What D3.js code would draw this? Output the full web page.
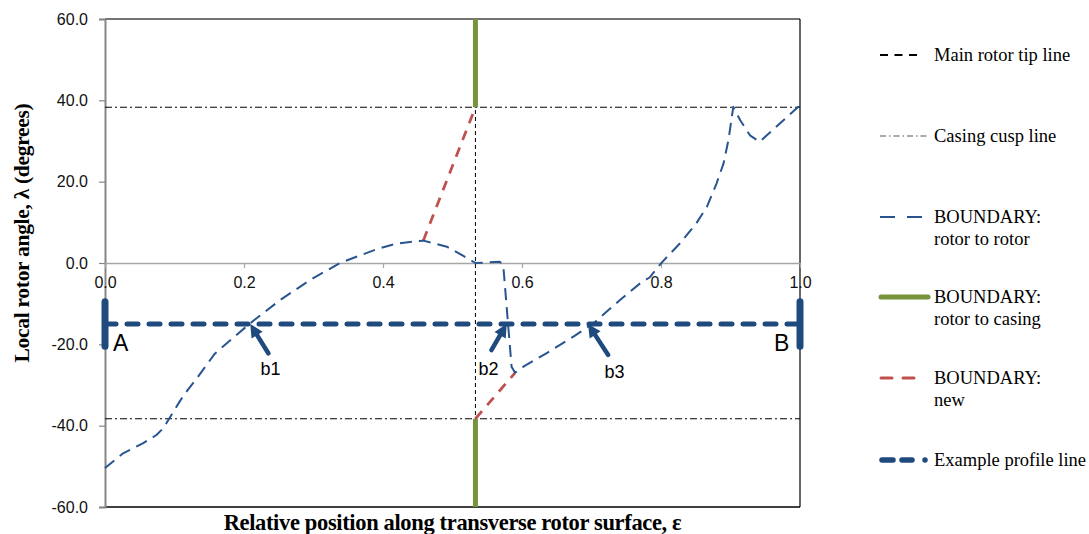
<!DOCTYPE html>
<html><head><meta charset="utf-8">
<script src="https://cdn.jsdelivr.net/npm/d3@7"></script>
<style>body{margin:0;background:#fff}svg{display:block}</style>
</head><body>
<svg id="chart" width="1089" height="534"></svg>
<script>
// ---- data ----
const xTicks = [0, 0.2, 0.4, 0.6, 0.8, 1.0];
const yTicks = [-60, -40, -20, 0, 20, 40, 60];
const rotorTipPos = 0.533;
const cuspLevel = 38.3;
const profileLevel = -15;
const profileEnds = [0, 1];
const profileBar = [-9.5, -20.5];

// BOUNDARY: rotor to rotor  [epsilon, lambda]
const rotorRotor = [
  [0, -50.4], [0.026, -46.8], [0.055, -44.3], [0.074, -42.3], [0.084, -40.6],
  [0.094, -37.8], [0.108, -33.9], [0.12, -31.0], [0.132, -28.4], [0.158, -22.3], [0.185, -18.3],
  [0.209, -14.8], [0.252, -9.1], [0.295, -4.2], [0.338, 0.0], [0.391, 3.4],
  [0.42, 4.8], [0.458, 5.5], [0.492, 4.0], [0.515, 1.8], [0.533, 0.0],
  [0.568, 0.3], [0.573, -0.5], [0.585, -25.5], [0.590, -27.0], [0.602, -25.5],
  [0.635, -22.2], [0.674, -18.1], [0.703, -14.8], [0.741, -9.1], [0.77, -5.0],
  [0.784, -3.5], [0.801, 0.1], [0.827, 4.8], [0.851, 9.8], [0.866, 13.8],
  [0.88, 19.6], [0.89, 24.5], [0.897, 30.2], [0.904, 38.4], [0.914, 35.1],
  [0.928, 31.4], [0.942, 29.8], [0.971, 34.3], [1.0, 38.8]
];
// BOUNDARY: new
const newUpper = [[0.458, 5.5], [0.533, 38.3]];
const newLower = [[0.533, -38.3], [0.590, -27.0]];
// BOUNDARY: rotor to casing
const casingUpper = [[0.533, 60], [0.533, 38.3]];
const casingLower = [[0.533, -38.3], [0.533, -60]];

// arrows: tip, tail, label position (data units)
const arrowLabels = ["b1", "b2", "b3"];
const arrowTips = [[0.209, -15], [0.578, -15], [0.695, -15]];
const arrowTails = [[0.235, -22.2], [0.556, -21.4], [0.724, -22.6]];
const arrowLabelPos = [[0.238, -27.6], [0.552, -27.6], [0.733, -28.2]];

const legendItems = [
  {key: "tip", lines: ["Main rotor tip line"]},
  {key: "cusp", lines: ["Casing cusp line"]},
  {key: "rr", lines: ["BOUNDARY:", "rotor to rotor"]},
  {key: "rc", lines: ["BOUNDARY:", "rotor to casing"]},
  {key: "new", lines: ["BOUNDARY:", "new"]},
  {key: "prof", lines: ["Example profile line"]}
];

// ---- layout ----
const svg = d3.select("#chart");
const L = 105, R = 800, T = 19, B = 507;
const x = d3.scaleLinear().domain([0, 1]).range([L, R]);
const y = d3.scaleLinear().domain([-60, 60]).range([B, T]);

const C = {
  curve: "#28558f", prof: "#1f4a7e", green: "#77933c", red: "#c0504d"
};
const sans = "'Liberation Sans', Arial, sans-serif";
const serif = "'Liberation Serif', 'Times New Roman', serif";
const fmt = d => d.toFixed(1);

// frame
svg.append("line").attr("x1", L).attr("x2", R).attr("y1", T).attr("y2", T)
  .attr("stroke", "#454545").attr("stroke-width", 1.5);
svg.append("line").attr("x1", R).attr("x2", R).attr("y1", T).attr("y2", B)
  .attr("stroke", "#000").attr("stroke-width", 1.2);
svg.append("line").attr("x1", L).attr("x2", R).attr("y1", B).attr("y2", B)
  .attr("stroke", "#000").attr("stroke-width", 1.5);

// y axis
const yAxis = d3.axisLeft(y).tickValues(yTicks).tickFormat(fmt).tickSize(6).tickPadding(11);
const gy = svg.append("g").attr("transform", `translate(${L},0)`).call(yAxis);
gy.select(".domain").attr("stroke", "#868686").attr("stroke-width", 2);
gy.selectAll(".tick line").attr("stroke", "#868686").attr("stroke-width", 1.2);
gy.selectAll(".tick text").attr("font-family", sans).attr("font-size", 16).attr("fill", "#111");

// x axis on zero line
const xAxis = d3.axisBottom(x).tickValues(xTicks).tickFormat(fmt).tickSize(5).tickPadding(9).tickSizeOuter(0);
const gx = svg.append("g").attr("transform", `translate(0,${y(0)})`).call(xAxis);
gx.select(".domain").attr("stroke", "#a6a6a6").attr("stroke-width", 1.5);
gx.selectAll(".tick line").attr("stroke", "#a6a6a6").attr("stroke-width", 1.2);
gx.selectAll(".tick text").attr("font-family", sans).attr("font-size", 16).attr("fill", "#111");

const line = d3.line().x(d => x(d[0])).y(d => y(d[1]));

// casing cusp lines
[cuspLevel, -cuspLevel].forEach(v => {
  svg.append("path").datum([[0, v], [1, v]]).attr("d", line)
    .attr("stroke", "#000").attr("stroke-width", 1).attr("fill", "none")
    .attr("stroke-dasharray", "7,3,2,3");
});
// main rotor tip line
svg.append("path").datum([[rotorTipPos, 60], [rotorTipPos, -60]]).attr("d", line)
  .attr("stroke", "#000").attr("stroke-width", 1).attr("fill", "none")
  .attr("stroke-dasharray", "4,3");

// rotor to casing (green)
[casingUpper, casingLower].forEach(seg => {
  svg.append("path").datum(seg).attr("d", line)
    .attr("stroke", C.green).attr("stroke-width", 5).attr("fill", "none");
});

// new boundary (red)
[newUpper, newLower].forEach(seg => {
  svg.append("path").datum(seg).attr("d", line)
    .attr("stroke", C.red).attr("stroke-width", 2.75).attr("fill", "none")
    .attr("stroke-dasharray", "10,8");
});

// rotor to rotor (blue dashed)
svg.append("path").datum(rotorRotor).attr("d", line)
  .attr("stroke", C.curve).attr("stroke-width", 2).attr("fill", "none")
  .attr("stroke-dasharray", "12,7").attr("stroke-linejoin", "round");

// example profile line
svg.append("path").datum([[profileEnds[0], profileLevel], [profileEnds[1], profileLevel]]).attr("d", line)
  .attr("stroke", C.prof).attr("stroke-width", 5).attr("fill", "none")
  .attr("stroke-linecap", "round").attr("stroke-dasharray", "11,11");
profileEnds.forEach(e => {
  svg.append("path").datum([[e, profileBar[0]], [e, profileBar[1]]]).attr("d", line)
    .attr("stroke", C.prof).attr("stroke-width", 7).attr("stroke-linecap", "round");
});
svg.append("text").attr("x", x(0) + 8).attr("y", y(-21.7)).text("A")
  .attr("font-family", sans).attr("font-size", 23).attr("fill", "#000");
svg.append("text").attr("x", x(1) - 26).attr("y", y(-21.7)).text("B")
  .attr("font-family", sans).attr("font-size", 23).attr("fill", "#000");

// arrows
arrowLabels.forEach((lab, i) => {
  const tx = x(arrowTips[i][0]), ty = y(arrowTips[i][1]);
  const sx = x(arrowTails[i][0]), sy = y(arrowTails[i][1]);
  const ang = Math.atan2(ty - sy, tx - sx);
  const hl = 13, hw = 6.5;
  const bx = tx - hl * Math.cos(ang), by = ty - hl * Math.sin(ang);
  svg.append("line").attr("x1", sx).attr("y1", sy).attr("x2", bx).attr("y2", by)
    .attr("stroke", C.prof).attr("stroke-width", 4.5).attr("stroke-linecap", "round");
  const px = -Math.sin(ang), py = Math.cos(ang);
  svg.append("polygon").attr("points", [
    [tx, ty], [bx + hw * px, by + hw * py], [bx - hw * px, by - hw * py]
  ].map(p => p.join(",")).join(" ")).attr("fill", C.prof);
  svg.append("text").attr("x", x(arrowLabelPos[i][0])).attr("y", y(arrowLabelPos[i][1]))
    .attr("text-anchor", "middle").text(lab)
    .attr("font-family", sans).attr("font-size", 18).attr("fill", "#000");
});

// axis titles
svg.append("text").attr("x", (L + R) / 2).attr("y", 530).attr("text-anchor", "middle")
  .attr("font-family", serif).attr("font-weight", "bold").attr("font-size", 22.5)
  .attr("letter-spacing", -0.35)
  .text("Relative position along transverse rotor surface, ε");
svg.append("text").attr("transform", `translate(29,233) rotate(-90)`)
  .attr("text-anchor", "middle")
  .attr("font-family", serif).attr("font-weight", "bold").attr("font-size", 21.5)
  .attr("letter-spacing", -0.3)
  .text("Local rotor angle, λ (degrees)");

// legend
const legY = [55, 136, 217, 297, 378, 460];
const lg = svg.append("g");
legendItems.forEach((it, i) => {
  const yy = legY[i];
  const g = lg.append("g");
  if (it.key === "tip") {
    g.append("line").attr("x1", 880).attr("x2", 921).attr("y1", yy).attr("y2", yy)
      .attr("stroke", "#000").attr("stroke-width", 2).attr("stroke-dasharray", "8,6.5");
  } else if (it.key === "cusp") {
    g.append("line").attr("x1", 880).attr("x2", 928).attr("y1", yy).attr("y2", yy)
      .attr("stroke", "#555").attr("stroke-width", 1.2).attr("stroke-dasharray", "6,3,1.5,3");
  } else if (it.key === "rr") {
    g.append("line").attr("x1", 880).attr("x2", 922).attr("y1", yy).attr("y2", yy)
      .attr("stroke", C.curve).attr("stroke-width", 2).attr("stroke-dasharray", "15,12");
  } else if (it.key === "rc") {
    g.append("line").attr("x1", 881).attr("x2", 928).attr("y1", yy).attr("y2", yy)
      .attr("stroke", C.green).attr("stroke-width", 5).attr("stroke-linecap", "round");
  } else if (it.key === "new") {
    g.append("line").attr("x1", 881).attr("x2", 914).attr("y1", yy).attr("y2", yy)
      .attr("stroke", C.red).attr("stroke-width", 3).attr("stroke-linecap", "round")
      .attr("stroke-dasharray", "11,11");
  } else if (it.key === "prof") {
    g.append("line").attr("x1", 882).attr("x2", 928).attr("y1", yy).attr("y2", yy)
      .attr("stroke", C.prof).attr("stroke-width", 5.5).attr("stroke-linecap", "round")
      .attr("stroke-dasharray", "11,9,10,13,0,20");
  }
  const t = g.append("text").attr("x", 934).attr("font-family", serif).attr("font-size", 18.5).attr("fill", "#000");
  it.lines.forEach((ln, j) => {
    t.append("tspan").attr("x", 934).attr("y", yy + 6 + j * 22).text(ln);
  });
});
</script>
</body></html>
